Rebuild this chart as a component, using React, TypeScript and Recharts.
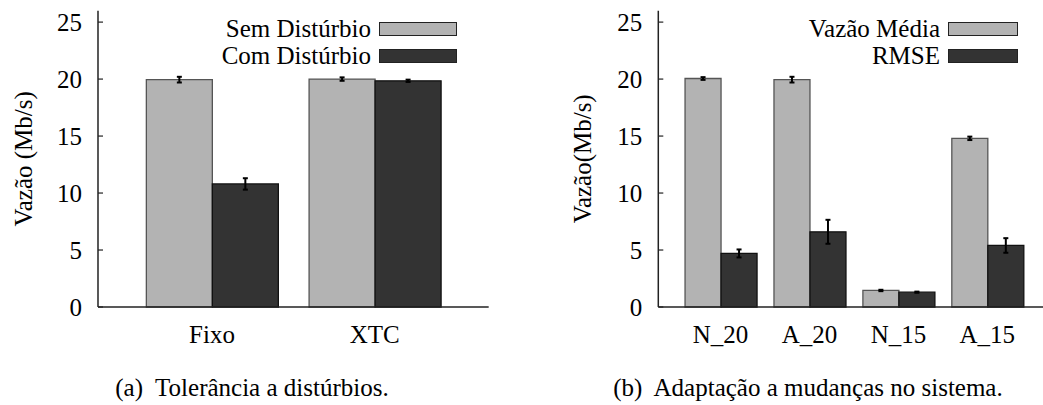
import { BarChart, Bar, XAxis, YAxis, Legend, ErrorBar } from 'recharts';

// (a) Tolerância a distúrbios
const categoriesA = ['Fixo', 'XTC'];
const semDisturbio = [19.95, 20.0];
const semDisturbioErr = [0.25, 0.15];
const comDisturbio = [10.8, 19.85];
const comDisturbioErr = [0.5, 0.1];

// (b) Adaptação a mudanças no sistema
const categoriesB = ['N_20', 'A_20', 'N_15', 'A_15'];
const vazaoMedia = [20.05, 19.95, 1.45, 14.8];
const vazaoMediaErr = [0.12, 0.25, 0.06, 0.15];
const rmse = [4.7, 6.6, 1.3, 5.4];
const rmseErr = [0.35, 1.05, 0.05, 0.64];

const yTicks = [0, 5, 10, 15, 20, 25];
const yDomain = [0, 26];
const topTicksA = [-0.1, 0.9];
const topTicksB = [-0.2, 0.8, 1.8, 2.8];

const FONT = '"Liberation Serif", "DejaVu Serif", Tinos, "Times New Roman", serif';
const LIGHT = '#b3b3b3';
const DARK = '#333333';
const FRAME = '#222222';

const dataA = categoriesA.map((cat, i) => ({
  cat,
  sem: semDisturbio[i],
  semErr: semDisturbioErr[i],
  com: comDisturbio[i],
  comErr: comDisturbioErr[i],
}));

const dataB = categoriesB.map((cat, i) => ({
  cat,
  media: vazaoMedia[i],
  mediaErr: vazaoMediaErr[i],
  rmse: rmse[i],
  rmseErr: rmseErr[i],
}));

const tickStyle = { fontFamily: FONT, fontSize: 25, fill: '#000' };

function KeyBox(props: any) {
  const { payload = [], boxW, boxH, order } = props;
  const items = [...payload].sort(
    (a: any, b: any) => order.indexOf(a.value) - order.indexOf(b.value)
  );
  return (
    <div style={{ fontFamily: FONT, fontSize: 25, color: '#000' }}>
      {items.map((p: any) => (
        <div
          key={p.value}
          style={{ display: 'flex', justifyContent: 'flex-end', alignItems: 'center', height: 26.5 }}
        >
          <span style={{ lineHeight: '26px', marginRight: 8 }}>{p.value}</span>
          <span
            style={{
              display: 'inline-block',
              width: boxW,
              height: boxH,
              background: p.color,
              border: `1.5px solid ${FRAME}`,
              boxSizing: 'border-box',
            }}
          />
        </div>
      ))}
    </div>
  );
}

type PanelProps = {
  data: any[];
  width: number;
  yAxisWidth: number;
  padX: number;
  gap: number;
  domainX: number[];
  topTicks: number[];
  label: string;
  labelDx: number;
  keys: { key: string; err: string; name: string; fill: string; stroke: string }[];
  legendLeft: number;
  legendWidth: number;
  boxW: number;
  boxH: number;
};

function Panel(p: PanelProps) {
  const order = p.keys.map((k) => k.name);
  return (
    <BarChart
      width={p.width}
      height={360}
      data={p.data}
      margin={{ top: 10.7, right: 6, bottom: 0, left: 0 }}
      barCategoryGap={p.gap}
      barGap={0}
    >
      <XAxis
        xAxisId="b"
        dataKey="cat"
        height={53}
        padding={{ left: p.padX, right: p.padX }}
        axisLine={{ stroke: FRAME, strokeWidth: 1.5 }}
        tickLine={false}
        tickSize={0}
        tickMargin={18}
        tick={tickStyle}
      />
      <XAxis
        xAxisId="t"
        orientation="top"
        type="number"
        domain={p.domainX}
        ticks={p.topTicks}
        height={0}
        tick={false}
        tickSize={-5}
        axisLine={{ stroke: FRAME, strokeWidth: 1.5 }}
        tickLine={{ stroke: FRAME, strokeWidth: 1.2 }}
        allowDataOverflow
      />
      <YAxis
        yAxisId="l"
        width={p.yAxisWidth}
        domain={yDomain}
        ticks={yTicks}
        tickSize={-5}
        tickMargin={21}
        tick={tickStyle}
        axisLine={{ stroke: FRAME, strokeWidth: 1.5 }}
        tickLine={{ stroke: FRAME, strokeWidth: 1.2 }}
        label={{
          value: p.label,
          angle: -90,
          position: 'center',
          dx: p.labelDx,
          style: { fontFamily: FONT, fontSize: 25, fill: '#000' },
        }}
      />
      <YAxis
        yAxisId="r"
        orientation="right"
        width={0}
        domain={yDomain}
        ticks={yTicks}
        tick={false}
        tickSize={-5}
        axisLine={{ stroke: FRAME, strokeWidth: 1.5 }}
        tickLine={{ stroke: FRAME, strokeWidth: 1.2 }}
      />
      <Legend
        layout="vertical"
        align="center"
        verticalAlign="middle"
        wrapperStyle={{ left: p.legendLeft, top: 16, width: p.legendWidth }}
        content={(props: any) => (
          <KeyBox {...props} boxW={p.boxW} boxH={p.boxH} order={order} />
        )}
      />
      {p.keys.map((k) => (
        <Bar
          key={k.key}
          xAxisId="b"
          yAxisId="l"
          dataKey={k.key}
          name={k.name}
          fill={k.fill}
          stroke={k.stroke}
          strokeWidth={1.3}
          isAnimationActive={false}
        >
          <ErrorBar dataKey={k.err} width={2.5} stroke="#000" strokeWidth={2} />
        </Bar>
      ))}
    </BarChart>
  );
}

const captionStyle = {
  position: 'absolute' as const,
  top: 374,
  height: 28,
  lineHeight: '28px',
  fontFamily: FONT,
  fontSize: 25,
  color: '#000',
  whiteSpace: 'pre' as const,
  textAlign: 'center' as const,
};

export default function App() {
  return (
    <div
      style={{
        position: 'absolute',
        left: 0,
        top: 0,
        width: 1043,
        height: 405,
        overflow: 'hidden',
        background: '#fff',
      }}
    >
      <div style={{ position: 'absolute', left: 0, top: 0 }}>
        <Panel
          data={dataA}
          width={494.7}
          yAxisWidth={98}
          padX={32.6}
          gap={15.75}
          domainX={[-0.7, 1.7]}
          topTicks={topTicksA}
          label="Vazão (Mb/s)"
          labelDx={-26}
          keys={[
            { key: 'sem', err: 'semErr', name: 'Sem Distúrbio', fill: LIGHT, stroke: '#555' },
            { key: 'com', err: 'comErr', name: 'Com Distúrbio', fill: DARK, stroke: '#111' },
          ]}
          legendLeft={157}
          legendWidth={300}
          boxW={78}
          boxH={14}
        />
      </div>
      <div style={{ position: 'absolute', left: 540, top: 0 }}>
        <Panel
          data={dataB}
          width={515.6}
          yAxisWidth={118.3}
          padX={17.8}
          gap={8.95}
          domainX={[-0.7, 3.7]}
          topTicks={topTicksB}
          label="Vazão(Mb/s)"
          labelDx={-16.6}
          keys={[
            { key: 'media', err: 'mediaErr', name: 'Vazão Média', fill: LIGHT, stroke: '#555' },
            { key: 'rmse', err: 'rmseErr', name: 'RMSE', fill: DARK, stroke: '#111' },
          ]}
          legendLeft={178}
          legendWidth={300}
          boxW={70}
          boxH={14}
        />
      </div>
      <div style={{ ...captionStyle, left: 52, width: 400 }}>(a)  Tolerância a distúrbios.</div>
      <div style={{ ...captionStyle, left: 558, width: 500 }}>(b)  Adaptação a mudanças no sistema.</div>
    </div>
  );
}
